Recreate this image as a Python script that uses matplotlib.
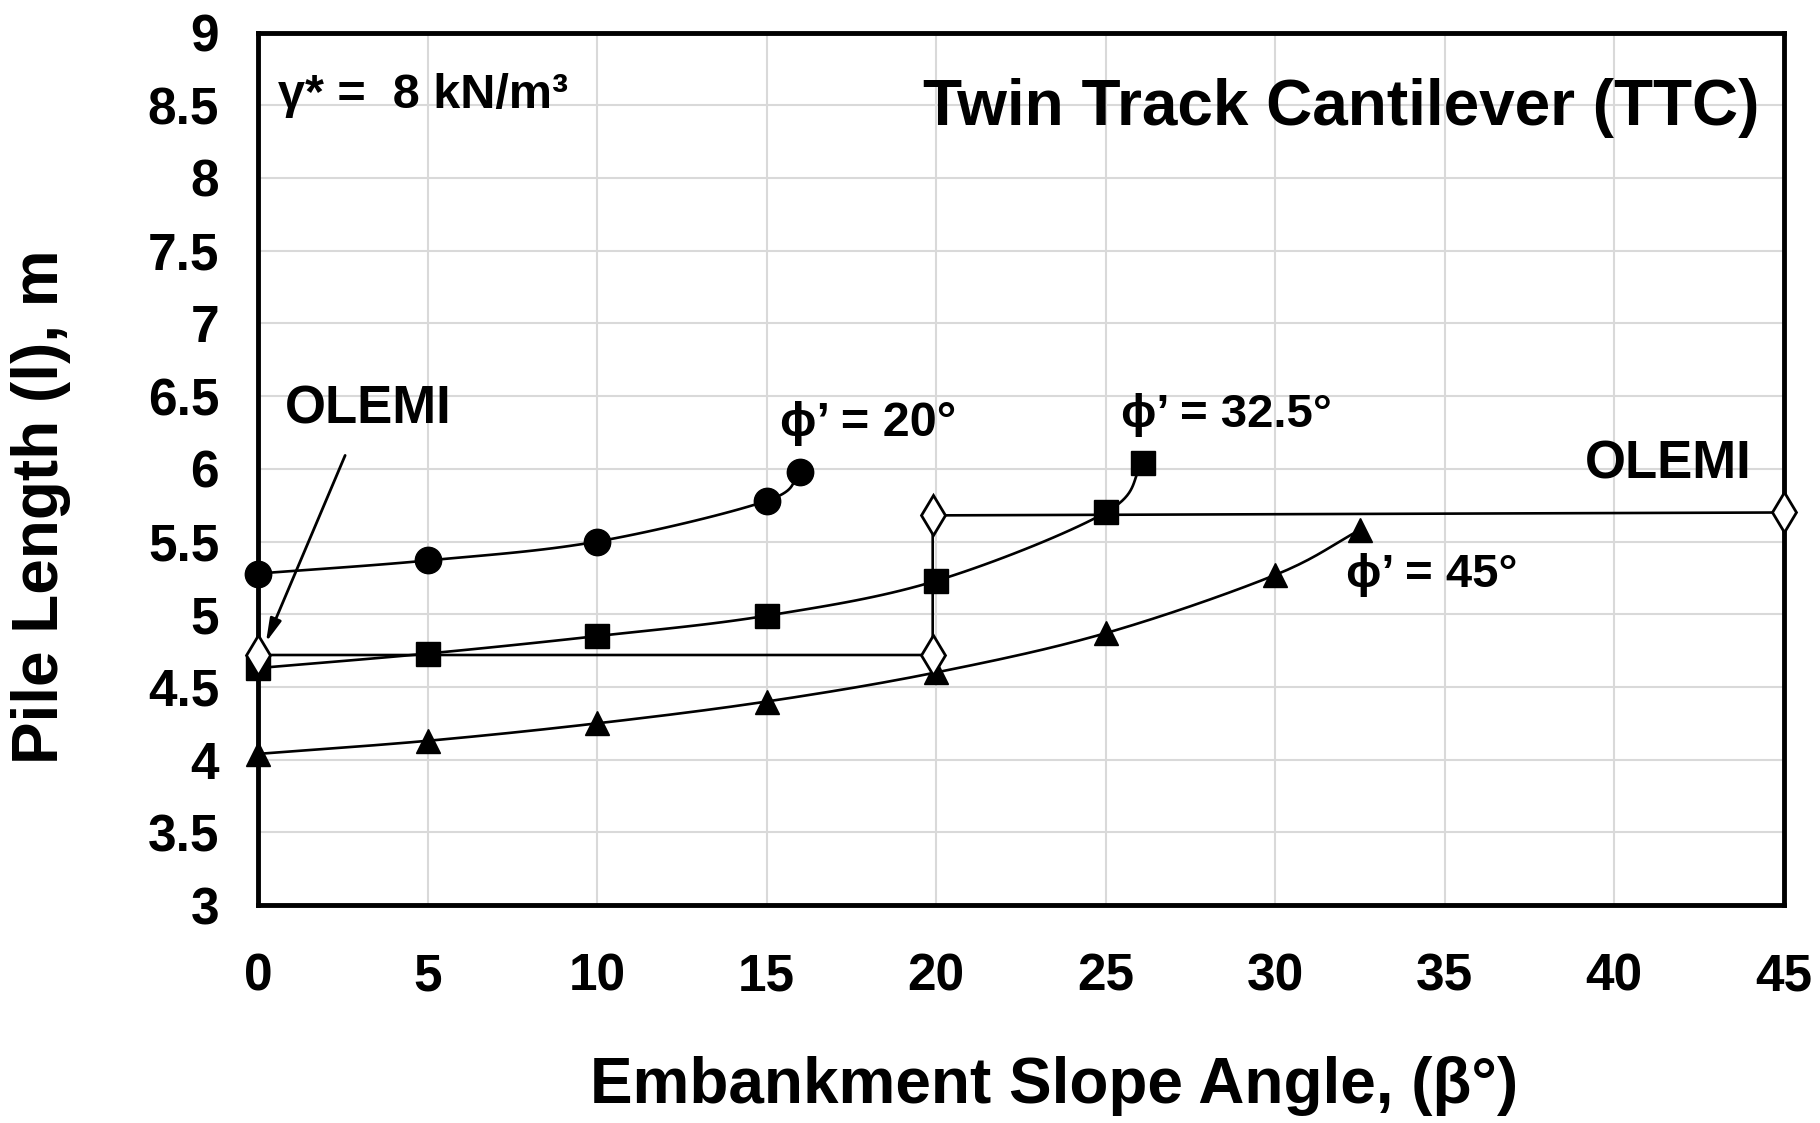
import numpy as np
import matplotlib
matplotlib.use("Agg")
import matplotlib.pyplot as plt

plt.rcParams['font.family'] = ['Liberation Sans', 'DejaVu Sans']
plt.rcParams['font.weight'] = 'bold'

# data
beta_20 = [0, 5, 10, 15, 16]
pile_20 = [5.28, 5.37, 5.50, 5.78, 5.98]

beta_325 = [0, 5, 10, 15, 20, 25, 26.1]
pile_325 = [4.63, 4.73, 4.85, 4.99, 5.23, 5.70, 6.04]

beta_45 = [0, 5, 10, 15, 20, 25, 30, 32.5]
pile_45 = [4.04, 4.13, 4.25, 4.40, 4.60, 4.87, 5.27, 5.58]

beta_olemi = [0, 19.9, 19.9, 45]
pile_olemi = [4.72, 4.72, 5.68, 5.70]

xticks = [0, 5, 10, 15, 20, 25, 30, 35, 40, 45]
yticks = [3, 3.5, 4, 4.5, 5, 5.5, 6, 6.5, 7, 7.5, 8, 8.5, 9]
ytick_labels = ['3', '3.5', '4', '4.5', '5', '5.5', '6', '6.5', '7', '7.5', '8', '8.5', '9']


def smooth(x, y, n=20):
    # Catmull-Rom style curve like Excel's smoothed line
    x = np.asarray(x, float)
    y = np.asarray(y, float)
    px = np.concatenate([[2 * x[0] - x[1]], x, [2 * x[-1] - x[-2]]])
    py = np.concatenate([[2 * y[0] - y[1]], y, [2 * y[-1] - y[-2]]])
    xs, ys = [], []
    for i in range(1, len(px) - 2):
        t = np.linspace(0, 1, n)
        for p, out in ((px, xs), (py, ys)):
            p0, p1, p2, p3 = p[i - 1], p[i], p[i + 1], p[i + 2]
            out.extend(0.5 * ((2 * p1) + (-p0 + p2) * t
                              + (2 * p0 - 5 * p1 + 4 * p2 - p3) * t ** 2
                              + (-p0 + 3 * p1 - 3 * p2 + p3) * t ** 3))
    return xs, ys


fig = plt.figure(figsize=(18.2, 11.23), dpi=100)
ax = fig.add_axes([0.1418, 0.194, 0.8382, 0.777])

lw = 1.9
for bx, py, mk, ms in ((beta_20, pile_20, 'o', 19),
                       (beta_325, pile_325, 's', 17),
                       (beta_45, pile_45, '^', 17)):
    sx, sy = smooth(bx, py)
    ax.plot(sx, sy, color='black', lw=lw, zorder=3, clip_on=False)
    ax.plot(bx, py, linestyle='none', marker=mk, ms=ms, color='black', zorder=4, clip_on=False)

ax.plot(beta_olemi, pile_olemi, color='black', lw=lw, marker='d', ms=20,
        markerfacecolor='white', markeredgecolor='black', markeredgewidth=2,
        zorder=5, clip_on=False)

ax.set_xlim(0, 45)
ax.set_ylim(3, 9)
ax.set_xticks(xticks)
ax.set_yticks(yticks)
ax.set_yticklabels(ytick_labels)
ax.tick_params(length=0, labelsize=37, pad=28)
ax.tick_params(axis='x', pad=34)
for lab in ax.get_xticklabels() + ax.get_yticklabels():
    lab.set_fontweight('bold')
ax.grid(True, color='#d9d9d9', lw=1.5, zorder=0)
ax.set_axisbelow(True)
for s in ax.spines.values():
    s.set_linewidth(3.5)
    s.set_color('black')

ax.text(44.3, 8.48, 'Twin Track Cantilever (TTC)', fontsize=46, fontweight='bold',
        ha='right', va='center')
ax.text(0.6, 8.57, 'γ* =  8 kN/m³', fontsize=35, fontweight='bold', ha='left', va='center')
ax.text(0.8, 6.41, 'OLEMI', fontsize=38, fontweight='bold', ha='left', va='center')
ax.text(44.05, 6.03, 'OLEMI', fontsize=38, fontweight='bold', ha='right', va='center')
ax.text(15.4, 6.31, 'ϕ’ = 20°', fontsize=35, fontweight='bold', ha='left', va='center')
ax.text(25.45, 6.37, 'ϕ’ = 32.5°', fontsize=34, fontweight='bold', ha='left', va='center')
ax.text(32.1, 5.27, 'ϕ’ = 45°', fontsize=34, fontweight='bold', ha='left', va='center')

ax.annotate('', xy=(0.2, 4.79), xytext=(2.6, 6.11),
            arrowprops=dict(arrowstyle='-|>,head_length=1.4,head_width=0.35',
                            color='black', lw=2), zorder=6)

fig.text(0.579, 0.033, 'Embankment Slope Angle, (β°)', fontsize=46, fontweight='bold',
         ha='center', va='center')
fig.text(0.0225, 0.549, 'Pile Length (l), m', fontsize=46, fontweight='bold',
         ha='center', va='center', rotation=90)

fig.savefig('out.png', dpi=100)
